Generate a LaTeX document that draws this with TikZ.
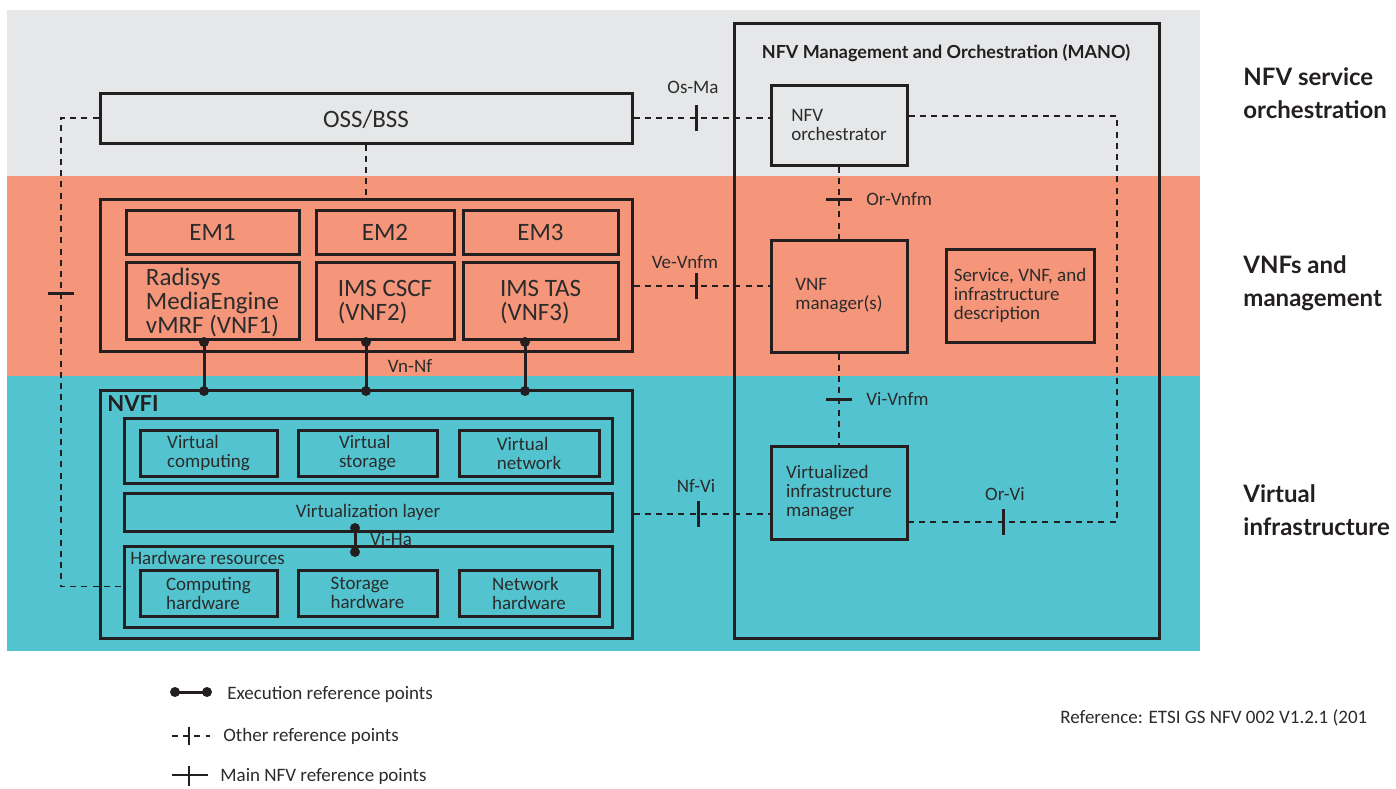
\documentclass[tikz,border=0pt]{standalone}
\usepackage{fontspec}
\setmainfont{Carlito}
\newfontfamily\headfont{Lato}
\usetikzlibrary{fit}
\definecolor{ink}{HTML}{231F20}
\definecolor{txt}{HTML}{2B2B2B}
\definecolor{bandgrey}{HTML}{E6E7E8}
\definecolor{bandsalmon}{HTML}{F5967A}
\definecolor{bandteal}{HTML}{53C4CF}
\newcommand{\bigtxt}{\fontsize{12.5pt}{12pt}\selectfont}
\newcommand{\midtxt}{\fontsize{9.5pt}{9.5pt}\selectfont}
\tikzset{
  box/.style={draw=ink, line width=1.5pt, inner sep=0pt},
  bigt/.style={font=\bigtxt, text=txt, align=left, inner sep=0pt},
  midt/.style={font=\midtxt, text=txt, align=left, inner sep=0pt},
  dline/.style={draw=ink, line width=0.8pt, dash pattern=on 3pt off 2.6pt},
  tickmark/.style={draw=ink, line width=1.5pt},
  exec/.style={draw=ink, line width=1.5pt},
  dot/.style={circle, fill=ink, inner sep=0pt, minimum size=5pt},
  lbl/.style={font=\midtxt, text=txt, inner sep=0pt},
  head/.style={font=\headfont\bfseries\fontsize{12pt}{16.5pt}\selectfont, text=ink, align=left, inner sep=0pt}
}
\begin{document}
\begin{tikzpicture}[x=0.5pt,y=-0.5pt]
\useasboundingbox (0,0) rectangle (1396,788);
\fill[white] (0,0) rectangle (1396,788);
% bands
\fill[bandgrey] (7,10) rectangle (1200,176);
\fill[bandsalmon] (7,176) rectangle (1200,376);
\fill[bandteal] (7,376) rectangle (1200,651);

% MANO
\node[box, fit={(734,23) (1159,638)}] (mano) {};
\node[font=\headfont\bfseries\fontsize{9pt}{10pt}\selectfont, text=ink, inner sep=0pt] (manot) at (946,53) {NFV Management and Orchestration (MANO)};

% OSS/BSS
\node[box, fit={(100,93) (632,143)}] (oss) {};
\node[bigt] (osst) at (366,119) {OSS/BSS};

% VNF container
\node[box, fit={(100,199) (632,351)}] (vnfc) {};
\node[box, fit={(126,210) (299,254)}] (em1) {};
\node[box, fit={(316,210) (454,254)}] (em2) {};
\node[box, fit={(463,210) (618,254)}] (em3) {};
\node[box, fit={(126,262) (299,339)}] (vnf1) {};
\node[box, fit={(316,262) (454,339)}] (vnf2) {};
\node[box, fit={(463,262) (618,339)}] (vnf3) {};
\node[bigt] (em1t) at (em1.center) {EM1};
\node[bigt] (em2t) at (em2.center) {EM2};
\node[bigt] (em3t) at (em3.center) {EM3};
\node[bigt] (vnf1t) at ([yshift=-1pt]vnf1.center) {Radisys\\MediaEngine\\vMRF (VNF1)};
\node[bigt] (vnf2t) at ([yshift=-1pt]vnf2.center) {IMS CSCF\\(VNF2)};
\node[bigt] (vnf3t) at ([yshift=-1pt]vnf3.center) {IMS TAS\\(VNF3)};

% NVFI
\node[box, fit={(100,390) (632,638)}] (nvfi) {};
\node[font=\headfont\bfseries\fontsize{11pt}{12pt}\selectfont, text=ink, inner sep=0pt, anchor=west] (nvfit) at (107,404) {NVFI};
\node[box, fit={(124,418) (612,483)}] (vrow) {};
\node[box, fit={(140,430) (277,476)}] (vcomp) {};
\node[box, fit={(298,430) (437,476)}] (vstor) {};
\node[box, fit={(459,430) (599,476)}] (vnet) {};
\node[midt] (vcompt) at (vcomp.center) {Virtual\\computing};
\node[midt] (vstort) at (vstor.center) {Virtual\\storage};
\node[midt] (vnett) at (vnet.center) {Virtual\\network};
\node[box, fit={(124,493) (612,531)}] (vlayer) {};
\node[midt] (vlayert) at (vlayer.center) {Virtualization layer};
\node[box, fit={(124,546) (612,627)}] (hwc) {};
\node[lbl, anchor=west] (hwt) at (130,558) {Hardware resources};
\node[box, fit={(140,570) (277,616)}] (chw) {};
\node[box, fit={(298,570) (437,616)}] (shw) {};
\node[box, fit={(459,570) (599,616)}] (nhw) {};
\node[midt] (chwt) at (chw.center) {Computing\\hardware};
\node[midt] (shwt) at (shw.center) {Storage\\hardware};
\node[midt] (nhwt) at (nhw.center) {Network\\hardware};

% MANO blocks
\node[box, fit={(771,85) (907,165)}] (orch) {};
\node[box, fit={(771,240) (907,352)}] (vnfm) {};
\node[box, fit={(946,249) (1094,342)}] (desc) {};
\node[box, fit={(771,446) (907,539)}] (vim) {};
\node[midt] (orcht) at (orch.center) {NFV\\orchestrator};
\node[midt] (vnfmt) at (vnfm.center) {VNF\\manager(s)};
\node[midt] (desct) at (desc.center) {Service, VNF, and\\infrastructure\\description};
\node[midt] (vimt) at (vim.center) {Virtualized\\infrastructure\\manager};

% OSS -> VNF container
\draw[dline] (oss.south) -- (vnfc.north);

% left dashed loop
\coordinate (lcorner) at (61,118);
\draw[dline] (oss.west) -- (lcorner) |- (hwc.west);
\coordinate (ltick) at (61,293);
\draw[tickmark] ([xshift=-6.5pt]ltick) -- ([xshift=6.5pt]ltick);

% Os-Ma
\draw[dline] (oss.east) -- (oss.east -| orch.west);
\coordinate (osma) at (696,118);
\draw[tickmark] ([yshift=6.5pt]osma) -- ([yshift=-6.5pt]osma);
\node[lbl] (osmal) at (693,87) {Os-Ma};

% orchestrator -> Or-Vi loop
\coordinate (orA) at (1117,116);
\coordinate (orB) at (1117,522);
\draw[dline] (orch.east |- orA) -- (orA) -- (orB) -- (vim.east |- orB);
\coordinate (orvi) at (1003,522);
\draw[tickmark] ([yshift=6.5pt]orvi) -- ([yshift=-6.5pt]orvi);
\node[lbl] (orvil) at (1005,494) {Or-Vi};

% Or-Vnfm
\draw[dline] (orch.south) -- (vnfm.north);
\coordinate (orvnfm) at (839,199);
\draw[tickmark] ([xshift=-6.5pt]orvnfm) -- ([xshift=6.5pt]orvnfm);
\node[lbl, anchor=west] (orvnfml) at (866,199) {Or-Vnfm};

% Vi-Vnfm
\draw[dline] (vnfm.south) -- (vim.north);
\coordinate (vivnfm) at (839,399);
\draw[tickmark] ([xshift=-6.5pt]vivnfm) -- ([xshift=6.5pt]vivnfm);
\node[lbl, anchor=west] (vivnfml) at (866,399) {Vi-Vnfm};

% Ve-Vnfm
\coordinate (vevnfm) at (696,286);
\draw[dline] (vnfc.east |- vevnfm) -- (vnfm.west |- vevnfm);
\draw[tickmark] ([yshift=6.5pt]vevnfm) -- ([yshift=-6.5pt]vevnfm);
\node[lbl] (vevnfml) at (685,262) {Ve-Vnfm};

% Nf-Vi
\coordinate (nfvi) at (698,514);
\draw[dline] (nvfi.east |- nfvi) -- (vim.west |- nfvi);
\draw[tickmark] ([yshift=6.5pt]nfvi) -- ([yshift=-6.5pt]nfvi);
\node[lbl] (nfvil) at (696,486) {Nf-Vi};

% Vn-Nf execution points
\node[dot] (e1a) at (204,342) {};
\node[dot] (e1b) at (204,391) {};
\node[dot] (e2a) at (366,342) {};
\node[dot] (e2b) at (366,391) {};
\node[dot] (e3a) at (525,342) {};
\node[dot] (e3b) at (525,391) {};
\draw[exec] (e1a.center) -- (e1b.center);
\draw[exec] (e2a.center) -- (e2b.center);
\draw[exec] (e3a.center) -- (e3b.center);
\node[lbl] (vnnf) at (410,366) {Vn-Nf};

% Vi-Ha
\node[dot] (vha) at (355,528) {};
\node[dot] (vhb) at (355,552) {};
\draw[exec] (vha.center) -- (vhb.center);
\node[lbl] (viha) at (391,539) {Vi-Ha};

% right headings
\node[head, anchor=west] (h1) at (1243,93) {NFV service\\orchestration};
\node[head, anchor=west] (h2) at (1243,283) {VNFs and\\management};
\node[head, anchor=west] (h3) at (1243,510) {Virtual\\infrastructure};

% legend
\node[dot] (lga) at (175,692) {};
\node[dot] (lgb) at (207,692) {};
\draw[exec] (lga.center) -- (lgb.center);
\node[lbl, anchor=west] (lgt1) at (227,694) {Execution reference points};
\coordinate (lo1) at (172,736);
\coordinate (lo2) at (210,736);
\draw[dline] (lo1) -- (lo2);
\coordinate (lot) at (189,736);
\draw[tickmark, line width=1.2pt] ([yshift=4.5pt]lot) -- ([yshift=-4.5pt]lot);
\node[lbl, anchor=west] (lgt2) at (223,736) {Other reference points};
\coordinate (lm1) at (172,775);
\coordinate (lm2) at (208,775);
\draw[tickmark, line width=1.2pt] (lm1) -- (lm2);
\coordinate (lmt) at (189,776);
\draw[tickmark, line width=1.2pt] ([yshift=5pt]lmt) -- ([yshift=-5pt]lmt);
\node[lbl, anchor=west] (lgt3) at (220,776) {Main NFV reference points};

% reference
\node[lbl, anchor=west] (refn) at (1060,718) {Reference: ETSI GS NFV 002 V1.2.1 (201};
\end{tikzpicture}
\end{document}
